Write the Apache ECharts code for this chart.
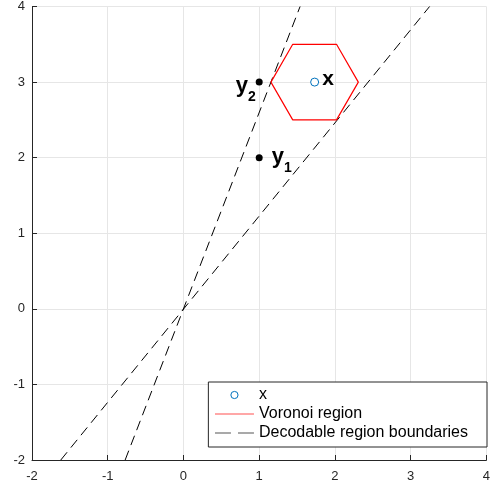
<!DOCTYPE html>
<html>
<head>
<meta charset="utf-8">
<script src="https://cdn.jsdelivr.net/npm/echarts@6/dist/echarts.min.js"></script>
<style>
html,body{margin:0;padding:0;background:#fff;}
#chart{width:493px;height:487px;}
</style>
</head>
<body>
<div id="chart"></div>
<script>
// ---- data ----
const xTicks = [-2, -1, 0, 1, 2, 3, 4];
const yTicks = [-2, -1, 0, 1, 2, 3, 4];

const pointX = [1.732];
const pointY = [3];

const codewordLabels = ['1', '2'];
const codewordX = [1, 1];
const codewordY = [2, 3];

const hexX = [1.155, 1.443, 2.021, 2.309, 2.021, 1.443, 1.155];
const hexY = [3, 3.5, 3.5, 3, 2.5, 2.5, 3];

const boundary1X = [-0.77, 1.54];
const boundary1Y = [-2, 4];
const boundary2X = [-1.62, 3.25];
const boundary2Y = [-2, 4];

const legendNames = ['x', 'Voronoi region', 'Decodable region boundaries'];

// ---- helpers ----
const zip = (xs, ys) => xs.map((v, i) => [v, ys[i]]);
const FONT = 'Liberation Sans, Arial, Helvetica, sans-serif';
const AX = '#262626';
const BLUE = '#0072BD';

const chart = echarts.init(document.getElementById('chart'), null, {renderer: 'canvas'});

const axisCommon = (ticks, margin) => ({
  type: 'value',
  min: ticks[0],
  max: ticks[ticks.length - 1],
  interval: ticks[1] - ticks[0],
  axisLine: {show: true, onZero: false, lineStyle: {color: AX, width: 1}},
  axisTick: {show: true, inside: true, length: 5, lineStyle: {color: AX}},
  axisLabel: {color: AX, fontSize: 13, fontFamily: FONT, margin: margin},
  splitLine: {show: true, lineStyle: {color: '#e6e6e6', width: 1}}
});

const option = {
  animation: false,
  backgroundColor: '#fff',
  grid: {left: 32, right: 6, top: 4, bottom: 27, containLabel: false},
  xAxis: axisCommon(xTicks, 10),
  yAxis: axisCommon(yTicks, 7),
  legend: {
    orient: 'vertical',
    right: 6,
    bottom: 40,
    itemWidth: 39,
    itemHeight: 9,
    itemGap: 3,
    padding: [5, 19, 6, 6],
    borderColor: AX,
    borderWidth: 1,
    borderRadius: 0,
    backgroundColor: '#fff',
    textStyle: {color: '#000', fontSize: 16, lineHeight: 16, fontFamily: FONT},
    data: [
      {name: legendNames[0], lineStyle: {opacity: 0},
       itemStyle: {color: '#fff', borderColor: BLUE, borderWidth: 1}},
      {name: legendNames[1], itemStyle: {opacity: 0}, lineStyle: {color: '#ff5050', width: 1.2}},
      {name: legendNames[2], itemStyle: {opacity: 0}, lineStyle: {color: '#555', width: 1.2, type: [16, 7]}}
    ]
  },
  series: [
    {
      name: legendNames[1],
      type: 'line',
      data: zip(hexX, hexY),
      symbol: 'none',
      lineStyle: {color: '#ff0000', width: 1.2},
      itemStyle: {color: '#ff0000'},
      z: 3
    },
    {
      name: legendNames[2],
      type: 'line',
      data: zip(boundary1X, boundary1Y),
      symbol: 'none',
      lineStyle: {color: '#000', width: 1, type: [10, 6]},
      itemStyle: {color: '#000'},
      z: 2
    },
    {
      name: legendNames[2],
      type: 'line',
      data: zip(boundary2X, boundary2Y),
      symbol: 'none',
      lineStyle: {color: '#000', width: 1, type: [10, 6]},
      itemStyle: {color: '#000'},
      z: 2
    },
    {
      name: legendNames[0],
      type: 'line',
      data: zip(pointX, pointY),
      symbol: 'circle',
      showSymbol: true,
      symbolSize: 8,
      lineStyle: {width: 0, color: BLUE},
      itemStyle: {color: '#fff', borderColor: BLUE, borderWidth: 1},
      label: {
        show: true, position: 'right', distance: 3, offset: [0, -3],
        formatter: 'x', color: '#000', fontSize: 21, fontWeight: 'bold', fontFamily: FONT
      },
      z: 4
    },
    {
      name: 'codewords',
      type: 'scatter',
      data: codewordX.map((v, i) => ({
        value: [v, codewordY[i]],
        label: i === 0
          ? {position: 'right', distance: 9, offset: [0, -1]}
          : {position: 'left', distance: 0, offset: [0, 4]}
      })),
      symbol: 'circle',
      symbolSize: 7,
      itemStyle: {color: '#000', opacity: 1},
      label: {
        show: true,
        formatter: (p) => '{b|y}{s|' + codewordLabels[p.dataIndex] + '}',
        rich: {
          b: {fontSize: 22, fontWeight: 'bold', color: '#000', fontFamily: FONT},
          s: {fontSize: 14, fontWeight: 'bold', color: '#000', fontFamily: FONT, padding: [22, 0, 0, 0]}
        }
      },
      z: 4
    }
  ]
};

chart.setOption(option);
</script>
</body>
</html>
